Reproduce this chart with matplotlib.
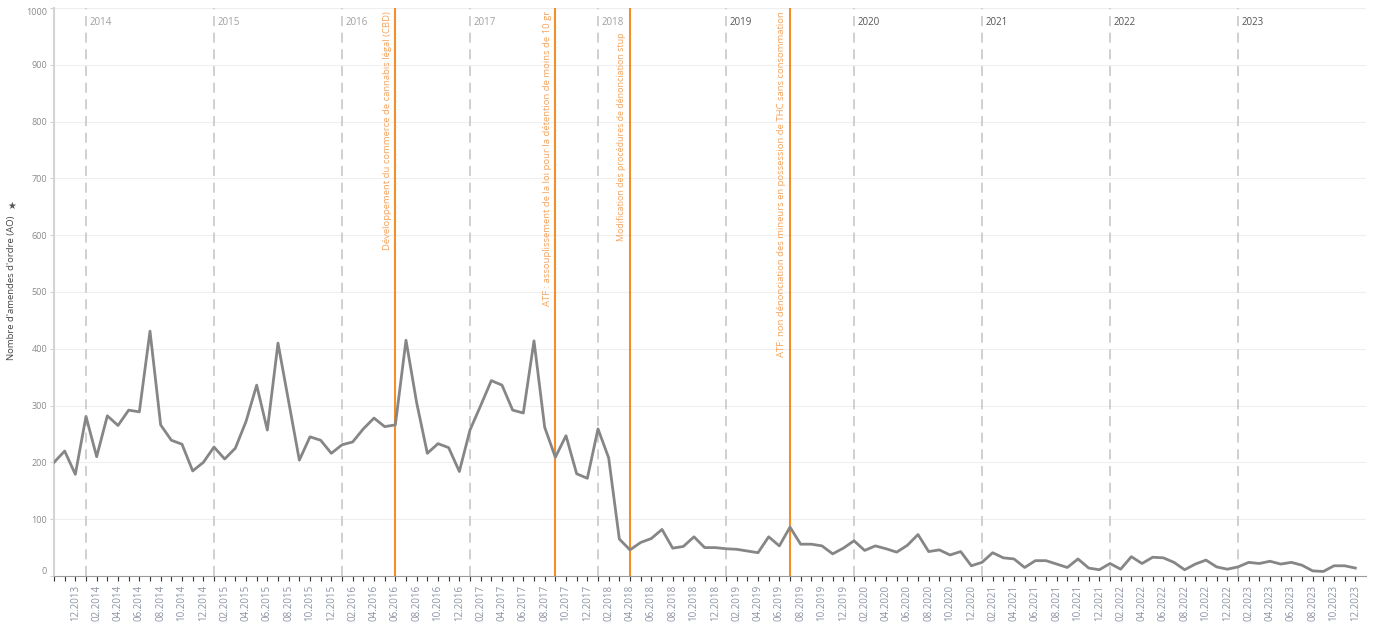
import matplotlib
matplotlib.use("Agg")
import matplotlib.pyplot as plt
import pandas as pd

plt.rcParams['font.family'] = ['Open Sans', 'DejaVu Sans']

# Monthly series from 10.2013 to 12.2023
start_month = "2013-10"
end_month = "2023-12"
values = [
    200, 220, 179,                                              # 2013 (10-12)
    281, 210, 282, 265, 292, 289, 431, 266, 239, 232, 185, 200,  # 2014
    227, 206, 225, 272, 336, 257, 410, 307, 204, 245, 239, 216,  # 2015
    231, 236, 259, 278, 263, 266, 415, 305, 216, 233, 226, 184,  # 2016
    257, 300, 344, 336, 292, 287, 414, 262, 209, 247, 180, 172,  # 2017
    259, 208, 65, 46, 59, 66, 82, 49, 52, 69, 50, 50,            # 2018
    48, 47, 44, 41, 69, 53, 86, 56, 56, 53, 39, 49,              # 2019
    62, 45, 53, 48, 42, 54, 73, 43, 46, 37, 43, 18,              # 2020
    24, 41, 32, 30, 15, 27, 27, 21, 15, 30, 14, 11,              # 2021
    22, 12, 34, 22, 33, 32, 24, 11, 21, 28, 16, 12,              # 2022
    16, 24, 22, 26, 21, 24, 19, 9, 8, 18, 18, 14,                # 2023
]

year_labels = ["2014", "2015", "2016", "2017", "2018", "2019", "2020", "2021", "2022", "2023"]
dark_years = ["2019", "2020", "2021", "2022", "2023"]

event_months = ["06.2016", "09.2017", "04.2018", "07.2019"]
event_texts = [
    "Développement du commerce de cannabis légal (CBD)",
    "ATF : assouplissement de la loi pour la détention de moins de 10 gr",
    "Modification des procédures de dénonciation stup",
    "ATF: non dénonciation des mineurs en possession de THC sans consommation",
]
event_text_top = [1000, 1000, 962, 1000]
event_text_size = [6.8, 6.8, 6.4, 6.8]

y_ticks = [0, 100, 200, 300, 400, 500, 600, 700, 800, 900, 1000]
y_label = "Nombre d'amendes d'ordre (AO)"
first_labelled_month = "12.2013"

months = pd.period_range(start_month, end_month, freq="M")
month_labels = [m.strftime("%m.%Y") for m in months]
x = list(range(len(months)))

fig = plt.figure(figsize=(13.78, 6.28), dpi=100)
ax = fig.add_axes([54 / 1378, 1 - 576 / 628, (1366 - 54) / 1378, (576 - 8) / 628])

# gridlines
for v in y_ticks[1:]:
    ax.axhline(v, color="#efefef", lw=0.8, zorder=0)

# year separators
for yl in year_labels:
    idx = month_labels.index("01." + yl)
    ax.axvline(idx, color="#c8c8c8", lw=1.2, ls=(0, (6, 4)), zorder=1)
    ax.text(idx + 0.35, 985, yl, fontsize=7, va="top", ha="left",
            color="#555555" if yl in dark_years else "#a0a0a0")

# event lines
orange = "#f28e2b"
for m, t, top, fs in zip(event_months, event_texts, event_text_top, event_text_size):
    idx = month_labels.index(m)
    ax.axvline(idx, color=orange, lw=1.5, zorder=2)
    ax.text(idx - 0.35, top - 5, t, rotation=90, fontsize=fs, color="#f5a35c",
            ha="right", va="top")

ax.plot(x, values, color="#868686", lw=2.0, zorder=3, solid_joinstyle="round")

ax.set_xlim(0, len(months))
ax.set_ylim(0, 1000)

first_idx = month_labels.index(first_labelled_month)
ax.set_xticks(x)
ax.set_xticklabels([lab if (int(lab[:2]) % 2 == 0 and i >= first_idx) else ""
                    for i, lab in enumerate(month_labels)],
                   rotation=90, fontsize=7, color="#8a93a3")
ax.tick_params(axis="x", length=3.5, width=0.8, color="#333333", pad=3)

ax.set_yticks(y_ticks)
ax.set_yticklabels([str(v) for v in y_ticks], fontsize=6.5, color="#8a8a8a")
ax.tick_params(axis="y", length=3, width=0.7, color="#cfcfcf", pad=2)
ylabs = ax.get_yticklabels()
ylabs[0].set_va("bottom")
ylabs[-1].set_va("top")

for s in ["top", "right"]:
    ax.spines[s].set_visible(False)
ax.spines["left"].set_color("#d4d4d4")
ax.spines["left"].set_linewidth(1.5)
ax.spines["bottom"].set_color("#9a9a9a")
ax.spines["bottom"].set_linewidth(0.8)

fig.text(12 / 1378, 1 - 288 / 628, y_label, rotation=90, fontsize=6.8,
         color="#444444", ha="center", va="center")
fig.text(12 / 1378, 1 - 206 / 628, "★", rotation=0, fontsize=7,
         color="#555555", ha="center", va="center", family="DejaVu Sans")

fig.savefig("out.png", dpi=100)
